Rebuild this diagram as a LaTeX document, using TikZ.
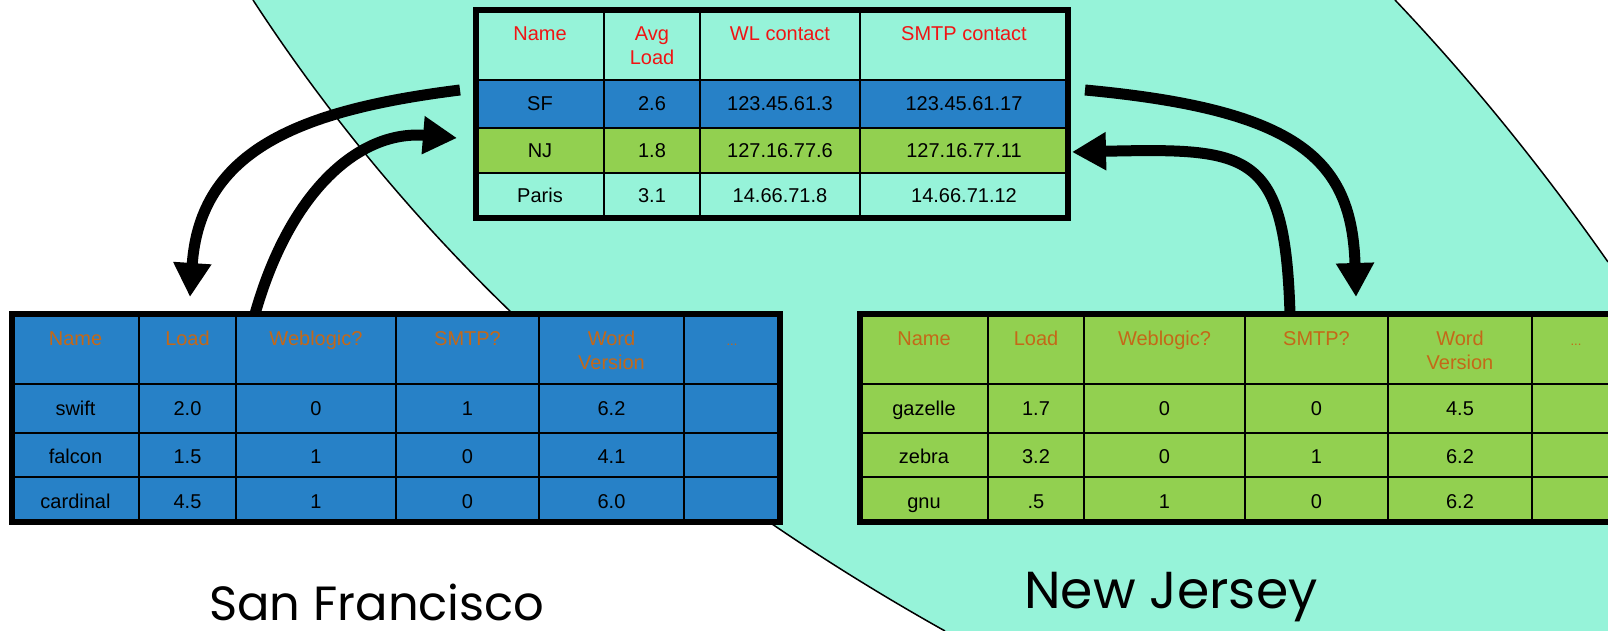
\documentclass[tikz,border=0pt]{standalone}
\usepackage{fontspec}
\setmainfont{Liberation Sans}
\newfontfamily\geofont{Poppins}
\usetikzlibrary{arrows.meta}

\definecolor{seafoam}{RGB}{150,243,217}
\definecolor{cellblue}{RGB}{39,129,199}
\definecolor{cellgreen}{RGB}{146,208,80}
\definecolor{headred}{RGB}{240,20,20}
\definecolor{headbrown}{RGB}{196,104,24}

\tikzset{
  cellline/.style={line width=2.5pt},
  frameline/.style={draw=black, line width=6pt, inner sep=0pt},
  txt/.style={anchor=base, inner sep=0pt, font=\fontsize{20}{24}\selectfont},
  headtxt/.style={txt, text=headred},
  subtxt/.style={txt, text=headbrown},
  dotstxt/.style={anchor=base, inner sep=0pt, text=headbrown, font=\fontsize{13}{15}\selectfont},
  flow/.style={line width=11pt, -{Triangle[length=34pt,width=36pt]}},
  border/.style={draw=black, line width=1.5pt},
  place/.style={anchor=base, inner sep=0pt},
}

\begin{document}
\begin{tikzpicture}[x=1pt,y=-1pt]
\useasboundingbox (0,0) rectangle (1608,631);
\begin{scope}
\clip (0,0) rectangle (1608,631);

% regions
\fill[seafoam] (0,0) rectangle (1608,631);
\fill[white] (0,0) -- (253,0) .. controls (419.7,256) and (650.3,466) .. (945,631) -- (0,631) -- cycle;
\fill[white] (1395,0) .. controls (1469.7,78.7) and (1540.7,166) .. (1608,262) -- (1608,0) -- cycle;
\draw[border] (253,0) .. controls (419.7,256) and (650.3,466) .. (945,631);
\draw[border] (1395,0) .. controls (1469.7,78.7) and (1540.7,166) .. (1608,262);

% central directory table
\fill[seafoam] (476,10) rectangle (1068,80);
\fill[cellblue] (476,80) rectangle (1068,128);
\fill[cellgreen] (476,128) rectangle (1068,173);
\fill[seafoam] (476,173) rectangle (1068,218);
\foreach \yy in {80,128,173} \draw[cellline] (476,\yy) -- (1068,\yy);
\foreach \xx in {604,700,860} \draw[cellline] (\xx,10) -- (\xx,218);
\node[frameline, minimum width=592pt, minimum height=208pt] (central) at (772,114) {};

\node[headtxt] (c-h1) at (540,41) {Name};
\node[headtxt] (c-h2a) at (652,41) {Avg};
\node[headtxt] (c-h2b) at (652,65) {Load};
\node[headtxt] (c-h3) at (780,41) {WL contact};
\node[headtxt] (c-h4) at (964,41) {SMTP contact};
\foreach \row/\yy/\a/\b/\c/\d in {1/111/SF/2.6/123.45.61.3/123.45.61.17,
                                 2/158/NJ/1.8/127.16.77.6/127.16.77.11,
                                 3/203/Paris/3.1/14.66.71.8/14.66.71.12} {
  \node[txt] (c-\row-1) at (540,\yy) {\a};
  \node[txt] (c-\row-2) at (652,\yy) {\b};
  \node[txt] (c-\row-3) at (780,\yy) {\c};
  \node[txt] (c-\row-4) at (964,\yy) {\d};
}

% San Francisco host table
\fill[cellblue] (12,314) rectangle (780,522);
\foreach \yy in {384,433,477} \draw[cellline] (12,\yy) -- (780,\yy);
\foreach \xx in {139,236,396,539,684} \draw[cellline] (\xx,314) -- (\xx,522);
\node[frameline, minimum width=768pt, minimum height=208pt] (sftab) at (396,418) {};

\node[subtxt] (s-h1) at (75.5,345) {Name};
\node[subtxt] (s-h2) at (187.5,345) {Load};
\node[subtxt] (s-h3) at (316,345) {Weblogic?};
\node[subtxt] (s-h4) at (467.5,345) {SMTP?};
\node[subtxt] (s-h5a) at (611.5,345) {Word};
\node[subtxt] (s-h5b) at (611.5,369) {Version};
\node[dotstxt] (s-h6) at (732,345) {...};
\foreach \row/\yy/\a/\b/\c/\d/\e in {1/415/swift/2.0/0/1/6.2,
                                    2/463/falcon/1.5/1/0/4.1,
                                    3/508/cardinal/4.5/1/0/6.0} {
  \node[txt] (s-\row-1) at (75.5,\yy) {\a};
  \node[txt] (s-\row-2) at (187.5,\yy) {\b};
  \node[txt] (s-\row-3) at (316,\yy) {\c};
  \node[txt] (s-\row-4) at (467.5,\yy) {\d};
  \node[txt] (s-\row-5) at (611.5,\yy) {\e};
}

% New Jersey host table
\fill[cellgreen] (860,314) rectangle (1628,522);
\foreach \yy in {384,433,477} \draw[cellline] (860,\yy) -- (1628,\yy);
\foreach \xx in {988,1084,1245,1388,1532} \draw[cellline] (\xx,314) -- (\xx,522);
\node[frameline, minimum width=768pt, minimum height=208pt] (njtab) at (1244,418) {};

\node[subtxt] (n-h1) at (924,345) {Name};
\node[subtxt] (n-h2) at (1036,345) {Load};
\node[subtxt] (n-h3) at (1164.5,345) {Weblogic?};
\node[subtxt] (n-h4) at (1316.5,345) {SMTP?};
\node[subtxt] (n-h5a) at (1460,345) {Word};
\node[subtxt] (n-h5b) at (1460,369) {Version};
\node[dotstxt] (n-h6) at (1576,345) {...};
\foreach \row/\yy/\a/\b/\c/\d/\e in {1/415/gazelle/1.7/0/0/4.5,
                                    2/463/zebra/3.2/0/1/6.2,
                                    3/508/gnu/.5/1/0/6.2} {
  \node[txt] (n-\row-1) at (924,\yy) {\a};
  \node[txt] (n-\row-2) at (1036,\yy) {\b};
  \node[txt] (n-\row-3) at (1164.5,\yy) {\c};
  \node[txt] (n-\row-4) at (1316.5,\yy) {\d};
  \node[txt] (n-\row-5) at (1460,\yy) {\e};
}

% arrow end points
\coordinate (sfout) at (460,90);
\coordinate (sfin) at (190,297);
\coordinate (sfup) at (255,314);
\coordinate (njrow) at (457,138);
\coordinate (njout) at (1085,90);
\coordinate (njin) at (1356,297);
\coordinate (njup) at (1290,314);
\coordinate (njback) at (1072,152);

% update flows
\draw[flow] (sfout) .. controls (300,110) and (200,150) .. (sfin);
\draw[flow] (sfup) .. controls (290,190) and (360,130) .. (njrow);
\draw[flow] (njout) .. controls (1300,110) and (1352,160) .. (njin);
\draw[flow] (njup) .. controls (1285,150) and (1250,148) .. (njback);

% site labels
\node[place, font=\geofont\fontsize{48}{52}\selectfont] (sflabel) at (377,620) {San Francisco};
\node[place, font=\geofont\fontsize{52}{56}\selectfont] (njlabel) at (1171,608) {New Jersey};
\end{scope}
\end{tikzpicture}
\end{document}
